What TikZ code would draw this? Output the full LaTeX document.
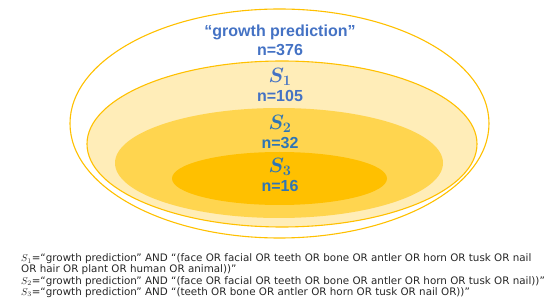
\documentclass[tikz,border=0pt]{standalone}
\usepackage{amsmath}
\usepackage{bm}
\usepackage{fontspec}
\setmainfont{Liberation Sans}
\newfontfamily\notefont{DejaVu Sans}
\usetikzlibrary{shapes.geometric, positioning}
\definecolor{ringgold}{HTML}{FFC000}
\definecolor{fillone}{HTML}{FFEDB8}
\definecolor{filltwo}{HTML}{FFD54F}
\definecolor{fillthree}{HTML}{FFC000}
\definecolor{lblblue}{HTML}{4472C4}
\definecolor{lbldeep}{HTML}{2E75B6}
\newcommand{\setsym}[1]{{\fontsize{20}{19}\selectfont$\bm{S}_{\bm{#1}}$}}
\newcommand{\querythree}{$S_2$=“growth prediction” AND “(face OR facial OR teeth OR bone OR antler OR horn OR tusk OR nail))”}
\newlength{\querywidth}
\tikzset{
  setring/.style={
    ellipse,
    inner sep=0pt,
  },
  setlabel/.style={
    align=center,
    font=\fontsize{16}{19}\selectfont\bfseries,
    text=lblblue
  },
  innerlabel/.style={
    setlabel,
    text=lbldeep
  }
}

\begin{document}
\settowidth{\querywidth}{\notefont\fontsize{10}{12}\selectfont\querythree}
\pgfmathsetmacro{\querysize}{min(14,5240/max(\querywidth,100))}
\begin{tikzpicture}[x=1pt, y=-1pt]
\useasboundingbox (0,0) rectangle (550,307);

% --- Nested sets ---
\node[setring, draw=ringgold, line width=1.1pt,
      minimum width=419pt, minimum height=229pt] (all) at (279.5,123.5) {};
\node[setring, fill=fillone, draw=ringgold, line width=1.1pt,
      minimum width=390pt, minimum height=166pt] (sone) at (282,144) {};
\node[setring, fill=filltwo,
      minimum width=328pt, minimum height=110pt] (stwo) at (279,163) {};
\node[setring, fill=fillthree,
      minimum width=215pt, minimum height=53pt] (sthree) at (279.5,178.5) {};

% --- Labels ---
\node[setlabel] (allname) at (280,40.5) {“growth prediction”\\n=376};
\node[setlabel] (onename) at (280,85) {\setsym{1}\\n=105};
\node[innerlabel] (twoname) at (280,132) {\setsym{2}\\n=32};
\node[innerlabel] (threename) at (280,174.5) {\setsym{3}\\n=16};

% --- Queries ---
\node[anchor=north west, align=left, inner sep=0pt,
      font=\notefont\fontsize{\querysize}{11.3}\selectfont, text=black!85] (queries) at (21,253.5)
{$S_1$=“growth prediction” AND “(face OR facial OR teeth OR bone OR antler OR horn OR tusk OR nail\\
OR hair OR plant OR human OR animal))”\\
\querythree\\
$S_3$=“growth prediction” AND “(teeth OR bone OR antler OR horn OR tusk OR nail OR))”};

\end{tikzpicture}
\end{document}
